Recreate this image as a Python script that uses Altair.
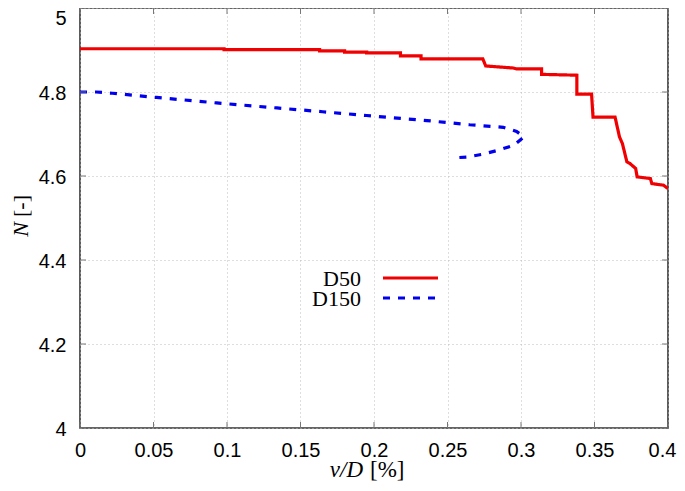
import altair as alt
import pandas as pd

# ---- data ----
series = ["D50", "D150"]
colors = ["#f00000", "#0000ee"]

d50_x = [0.0, 0.098, 0.098, 0.163, 0.163, 0.180, 0.180, 0.195, 0.195, 0.218, 0.218,
         0.232, 0.232, 0.274, 0.276, 0.295, 0.297, 0.314, 0.314, 0.338, 0.338,
         0.348, 0.349, 0.364, 0.367, 0.369, 0.372, 0.374, 0.378, 0.379, 0.388,
         0.389, 0.397, 0.400]
d50_n = [4.903, 4.903, 4.901, 4.901, 4.898, 4.898, 4.895, 4.895, 4.893, 4.893, 4.886,
         4.886, 4.879, 4.879, 4.862, 4.857, 4.855, 4.855, 4.842, 4.840, 4.795,
         4.795, 4.740, 4.740, 4.693, 4.677, 4.634, 4.630, 4.618, 4.598, 4.594,
         4.582, 4.578, 4.570]

d150_x = [0.0, 0.011, 0.022, 0.052, 0.093, 0.134, 0.165, 0.195, 0.236, 0.265, 0.288,
          0.297, 0.302, 0.295, 0.284, 0.274, 0.263, 0.253]
d150_n = [4.800, 4.800, 4.797, 4.787, 4.774, 4.762, 4.753, 4.744, 4.732, 4.722, 4.716,
          4.706, 4.693, 4.673, 4.661, 4.652, 4.645, 4.643]

x_ticks = [0, 0.05, 0.1, 0.15, 0.2, 0.25, 0.3, 0.35, 0.4]
y_ticks = [4, 4.2, 4.4, 4.6, 4.8, 5]

x_title = ["v/D", "[%]"]
y_title = ["N", "[-]"]

# ---- build table ----
rows = []
for s, xs, ns in ((series[0], d50_x, d50_n), (series[1], d150_x, d150_n)):
    for i, (xv, nv) in enumerate(zip(xs, ns)):
        rows.append({"series": s, "i": i, "x": xv, "N": nv})
df = pd.DataFrame(rows)

W, H = 588, 420

xscale = alt.Scale(domain=[0, 0.4], nice=False, zero=False)
yscale = alt.Scale(domain=[4, 5], nice=False, zero=False)

xaxis = alt.Axis(values=x_ticks, format="~g", title=None, labelPadding=12,
                 grid=True, ticks=False, domain=False, labelFlush=False,
                 labelOffset={"condition": {"test": "datum.value >= 0.4", "value": -6},
                              "value": 0})
yaxis = alt.Axis(values=y_ticks, format="~g", title=None, labelPadding=14,
                 grid=True, ticks=False, domain=False, labelFlush=False,
                 labelOffset={"condition": {"test": "datum.value >= 5", "value": 10},
                              "value": 1})

lines = alt.Chart(df).mark_line(strokeWidth=3.2, clip=True).encode(
    x=alt.X("x:Q", scale=xscale, axis=xaxis),
    y=alt.Y("N:Q", scale=yscale, axis=yaxis),
    color=alt.Color("series:N", scale=alt.Scale(domain=series, range=colors), legend=None),
    strokeDash=alt.StrokeDash("series:N",
                              scale=alt.Scale(domain=series, range=[[1, 0], [7, 8]]),
                              legend=None),
    order=alt.Order("i:Q"),
    detail="series:N",
)

# inward tick marks (gnuplot style, all four sides)
xt = pd.DataFrame({"x": x_ticks})
yt = pd.DataFrame({"N": y_ticks})
tick_style = dict(color="#777777", strokeWidth=1)
xt_b = alt.Chart(xt).mark_rule(**tick_style).encode(
    x=alt.X("x:Q", scale=xscale, axis=xaxis), y=alt.value(H), y2=alt.value(H - 6))
xt_t = alt.Chart(xt).mark_rule(**tick_style).encode(
    x=alt.X("x:Q", scale=xscale, axis=xaxis), y=alt.value(0), y2=alt.value(6))
yt_l = alt.Chart(yt).mark_rule(**tick_style).encode(
    y=alt.Y("N:Q", scale=yscale, axis=yaxis), x=alt.value(0), x2=alt.value(6))
yt_r = alt.Chart(yt).mark_rule(**tick_style).encode(
    y=alt.Y("N:Q", scale=yscale, axis=yaxis), x=alt.value(W), x2=alt.value(W - 6))

one = pd.DataFrame({"a": [0]})
serif = "Liberation Serif"

# axis titles (mixed italic / upright)
xt1 = alt.Chart(one).mark_text(font=serif, fontSize=23, fontStyle="italic", align="right",
                               baseline="middle", color="black", text=x_title[0]).encode(
    x=alt.value(283), y=alt.value(462))
xt2 = alt.Chart(one).mark_text(font=serif, fontSize=23, align="left",
                               baseline="middle", color="black", text=x_title[1]).encode(
    x=alt.value(290), y=alt.value(462))
yt1 = alt.Chart(one).mark_text(font=serif, fontSize=22, fontStyle="italic", align="right",
                               baseline="middle", angle=270, color="black", text=y_title[0]).encode(
    x=alt.value(-59), y=alt.value(214))
yt2 = alt.Chart(one).mark_text(font=serif, fontSize=22, align="left",
                               baseline="middle", angle=270, color="black", text=y_title[1]).encode(
    x=alt.value(-59), y=alt.value(209))

# legend (label on the left, sample on the right)
legend_layers = []
leg_y = [270, 290]
dashes = [[1, 0], [7, 8]]
for k, s in enumerate(series):
    legend_layers.append(
        alt.Chart(one).mark_text(font=serif, fontSize=22, align="right", baseline="middle",
                                 color="black", text=s).encode(
            x=alt.value(281), y=alt.value(leg_y[k] + 1)))
    legend_layers.append(
        alt.Chart(one).mark_rule(color=colors[k], strokeWidth=3.2, strokeDash=dashes[k]).encode(
            x=alt.value(303), x2=alt.value(358), y=alt.value(leg_y[k])))

chart = alt.layer(
    lines, xt_b, xt_t, yt_l, yt_r, xt1, xt2, yt1, yt2, *legend_layers
).properties(
    width=W, height=H,
    autosize=alt.AutoSizeParams(type="none"),
    padding={"left": 72, "top": 0, "right": 9, "bottom": 55},
).configure_view(
    stroke="#333333", strokeWidth=1.6
).configure_axis(
    labelFont="Liberation Sans", labelFontSize=20, labelColor="black",
    gridColor="#bdbdbd", gridDash=[1, 3], gridWidth=1,
)

chart.save("out.html", embed_options={"renderer": "svg", "actions": False})
